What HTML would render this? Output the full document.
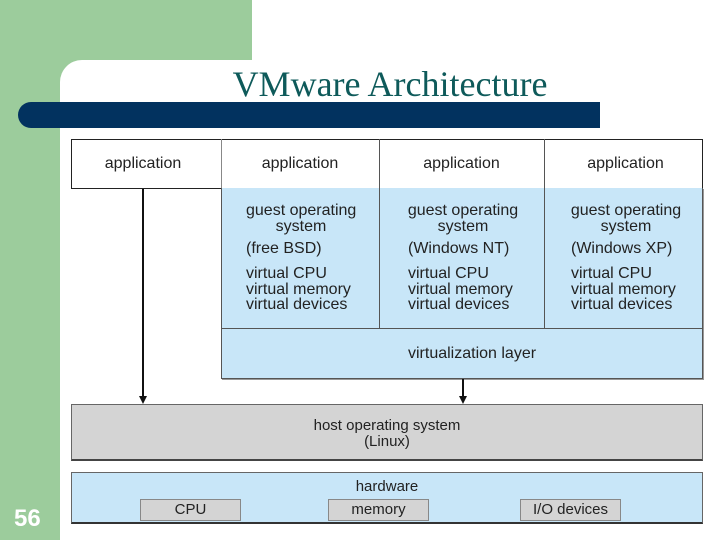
<!DOCTYPE html>
<html><head><style>
body{margin:0;width:720px;height:540px;position:relative;overflow:hidden;background:#9ccc9c;font-family:"Liberation Sans",sans-serif;}
.a{position:absolute;box-sizing:border-box;}
.t{position:absolute;font-size:16px;color:#222;line-height:15.5px;white-space:nowrap;}
.c{text-align:center;}
</style></head><body>
<div class="a" style="left:252px;top:0;width:468px;height:60px;background:#fff"></div>
<div class="a" style="left:60px;top:60px;width:660px;height:480px;background:#fff;border-top-left-radius:22px"></div>
<div class="t c" style="left:190px;top:63px;width:400px;font-family:'Liberation Serif',serif;font-size:36px;line-height:42px;color:#0e5a5a">VMware Architecture</div>
<div class="a" style="left:18px;top:102px;width:582px;height:26px;background:#02325f;border-radius:13px 0 0 13px"></div>

<div class="a" style="left:71px;top:139px;width:632px;height:50px;border:1px solid #222;background:#fff"></div>
<div class="a" style="left:221px;top:139px;width:1px;height:50px;background:#888"></div>
<div class="a" style="left:379px;top:139px;width:1px;height:50px;background:#555"></div>
<div class="a" style="left:544px;top:139px;width:1px;height:50px;background:#555"></div>
<div class="t c" style="left:68px;top:156px;width:150px">application</div>
<div class="t c" style="left:221px;top:156px;width:158px">application</div>
<div class="t c" style="left:379px;top:156px;width:165px">application</div>
<div class="t c" style="left:544px;top:156px;width:163px">application</div>

<div class="a" style="left:221px;top:188px;width:482px;height:191px;background:#c8e6f8;border:1px solid #555;border-top:none;box-shadow:1px 1px 0 #999"></div>
<div class="a" style="left:221px;top:328px;width:482px;height:1px;background:#555"></div>
<div class="a" style="left:379px;top:188px;width:1px;height:140px;background:#555"></div>
<div class="a" style="left:544px;top:188px;width:1px;height:140px;background:#555"></div>

<div class="t c" style="left:246px;top:203px;width:110px">guest operating<br>system</div>
<div class="t" style="left:246px;top:241px">(free BSD)</div>
<div class="t" style="left:246px;top:266px">virtual CPU<br>virtual memory<br>virtual devices</div>

<div class="t c" style="left:407px;top:203px;width:112px">guest operating<br>system</div>
<div class="t" style="left:408px;top:241px">(Windows NT)</div>
<div class="t" style="left:408px;top:266px">virtual CPU<br>virtual memory<br>virtual devices</div>

<div class="t c" style="left:570px;top:203px;width:112px">guest operating<br>system</div>
<div class="t" style="left:571px;top:241px">(Windows XP)</div>
<div class="t" style="left:571px;top:266px">virtual CPU<br>virtual memory<br>virtual devices</div>

<div class="t" style="left:408px;top:346px">virtualization layer</div>

<div class="a" style="left:142px;top:189px;width:2px;height:208px;background:#111"></div>
<div class="a" style="left:139px;top:396px;width:0;height:0;border-left:4px solid transparent;border-right:4px solid transparent;border-top:8px solid #111"></div>
<div class="a" style="left:462px;top:379px;width:2px;height:18px;background:#111"></div>
<div class="a" style="left:459px;top:396px;width:0;height:0;border-left:4px solid transparent;border-right:4px solid transparent;border-top:8px solid #111"></div>

<div class="a" style="left:71px;top:404px;width:632px;height:57px;background:#d4d4d4;border:1px solid #666;border-bottom:2px solid #444"></div>
<div class="t c" style="left:71px;top:418px;width:632px;font-size:15px">host operating system<br>(Linux)</div>

<div class="a" style="left:71px;top:472px;width:632px;height:52px;background:#c8e6f8;border:1px solid #666;border-bottom:2px solid #333"></div>
<div class="t c" style="left:71px;top:479px;width:632px;font-size:15px">hardware</div>
<div class="a" style="left:140px;top:499px;width:101px;height:22px;background:#d4d4d4;border:1px solid #888"></div>
<div class="t c" style="left:140px;top:502px;width:101px;font-size:15px">CPU</div>
<div class="a" style="left:328px;top:499px;width:101px;height:22px;background:#d4d4d4;border:1px solid #888"></div>
<div class="t c" style="left:328px;top:502px;width:101px;font-size:15px">memory</div>
<div class="a" style="left:520px;top:499px;width:101px;height:22px;background:#d4d4d4;border:1px solid #888"></div>
<div class="t c" style="left:520px;top:502px;width:101px;font-size:15px">I/O devices</div>

<div class="t" style="left:14px;top:506px;font-size:24px;line-height:26px;font-weight:bold;color:#fff">56</div>
</body></html>
